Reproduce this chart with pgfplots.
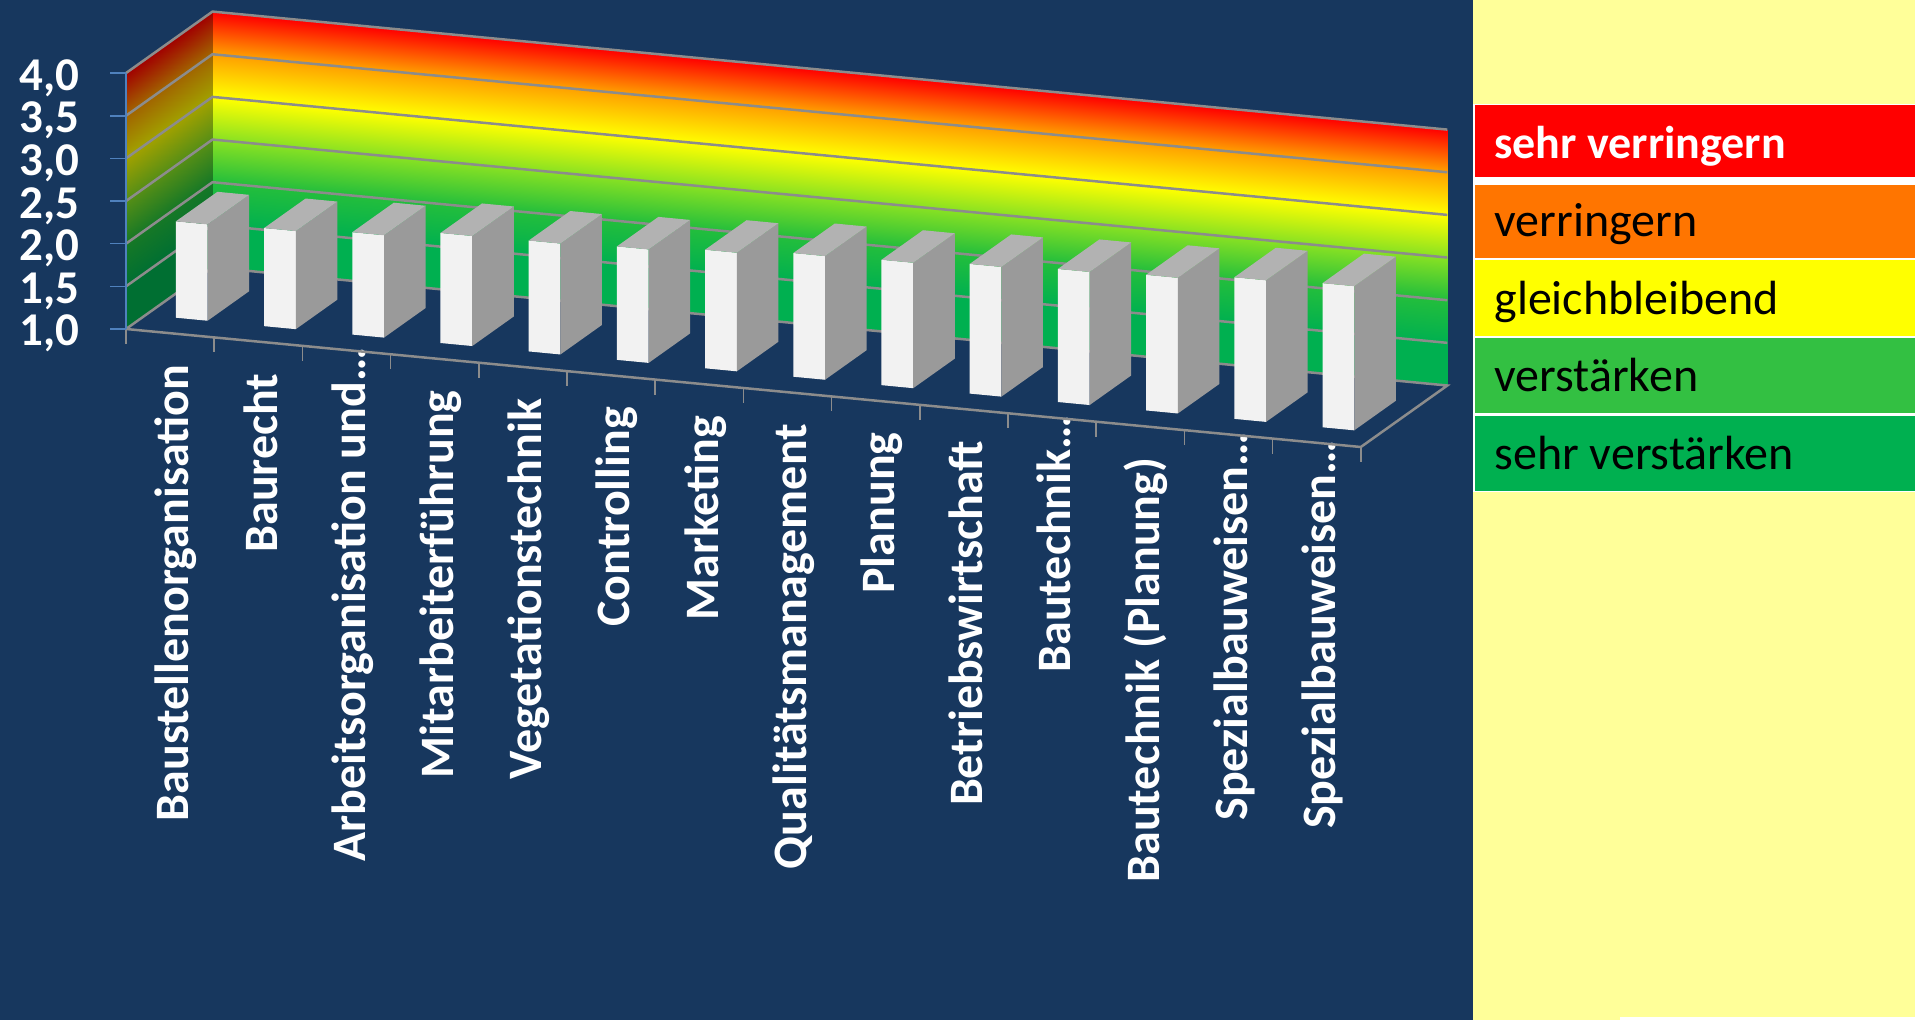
\documentclass[border=0pt]{standalone}
\usepackage{fontspec}
\setmainfont{Carlito}
\usepackage{pgfplots}
\pgfplotsset{compat=1.18}

\definecolor{navy}{RGB}{23,55,94}
\definecolor{panel}{RGB}{255,255,153}
\definecolor{gridc}{RGB}{140,140,140}
\definecolor{axisblue}{RGB}{79,129,189}
\definecolor{barfront}{RGB}{242,242,242}
\definecolor{barside}{RGB}{154,154,154}
\definecolor{bartop}{RGB}{178,178,178}
\definecolor{lgred}{RGB}{255,0,0}
\definecolor{lgorange}{RGB}{255,117,0}
\definecolor{lgyellow}{RGB}{255,255,0}
\definecolor{lggreen}{RGB}{51,192,66}
\definecolor{lgdark}{RGB}{0,176,80}

\pgfplotsset{
  colormap={wall}{rgb255(0cm)=(0,176,80); rgb255(1cm)=(0,176,80); rgb255(2cm)=(35,190,60);
    rgb255(3cm)=(135,225,35); rgb255(4cm)=(255,255,0); rgb255(5cm)=(255,160,0); rgb255(6cm)=(255,0,0)},
  colormap={walldark}{rgb255(0cm)=(0,111,50); rgb255(1cm)=(0,111,50); rgb255(2cm)=(22,120,38);
    rgb255(3cm)=(85,142,22); rgb255(4cm)=(161,161,0); rgb255(5cm)=(161,101,0); rgb255(6cm)=(161,0,0)},
}
% coordinates in pixels of the reference, hung on the axis corner
\tikzset{px/.style={shift={(axis cs:0,0,1)},x=0.5pt,y=-0.5pt,shift={(-126,-329)}}}

% one bar: category index, value
\newcommand{\barbox}[2]{%
  \pgfmathsetmacro\xa{#1+0.34}%
  \pgfmathsetmacro\xb{#1+0.70}%
  \addplot3[draw=none,fill=barfront,forget plot] coordinates {(\xa,0.23,1) (\xb,0.23,1) (\xb,0.23,#2) (\xa,0.23,#2)} -- cycle;
  \addplot3[draw=none,fill=barside,forget plot] coordinates {(\xb,0.23,1) (\xb,0.71,1) (\xb,0.71,#2) (\xb,0.23,#2)} -- cycle;
  \addplot3[draw=none,fill=bartop,forget plot] coordinates {(\xa,0.23,#2) (\xb,0.23,#2) (\xb,0.71,#2) (\xa,0.71,#2)} -- cycle;
}
% truncated labels stand higher in the chart
\newcommand{\cut}{…\kern-17pt}

\begin{document}
\begin{tikzpicture}
\begin{axis}[
    set layers,
    x={(44.1pt,-4.215pt)}, y={(43.25pt,30.75pt)}, z={(0pt,42.65pt)},
    xmin=0, xmax=14, ymin=0, ymax=1, zmin=1, zmax=4,
    clip=false,
    axis line style={draw=none},
    tick style={draw=none},
    major tick length=0pt,
    xtick={0.5,1.5,2.5,3.5,4.5,5.5,6.5,7.5,8.5,9.5,10.5,11.5,12.5,13.5},
    xticklabels={Baustellenorganisation,Baurecht,Arbeitsorganisation und\cut,Mitarbeiterführung,Vegetationstechnik,Controlling,Marketing,Qualitätsmanagement,Planung,Betriebswirtschaft,Bautechnik\cut,Bautechnik (Planung),Spezialbauweisen\cut,Spezialbauweisen\cut},
    ytick=\empty,
    ztick={1,1.5,2,2.5,3,3.5,4},
    xtick pos=left,
    ztick pos=left,
    % shifts after rotate=90 run along the turned text
    xticklabel style={rotate=90,anchor=base east,text=white,xshift=-12.4pt,yshift=-9.4pt,
      font=\fontsize{24}{24}\selectfont\bfseries},
    zticklabel style={anchor=base east,inner sep=0pt,text=white,xshift=-23.2pt,yshift=-8.5pt,
      font=\fontsize{23.5}{24}\selectfont\bfseries,
      /pgf/number format/.cd,fixed,fixed zerofill,precision=1,use comma,assume math mode=true},
    point meta min=1, point meta max=4,
  ]

  \pgfonlayer{axis background}
    \fill[px,navy] (0,0) rectangle (1915,1020);
    \fill[px,panel] (1473,0) rectangle (1915,1020);
    \fill[px,white] (1473,104) rectangle (1915,492);
    \fill[px,white] (1620,1017) rectangle (1915,1020);
  \endpgfonlayer

  % walls
  \addplot3[surf,shader=interp,colormap name=wall,point meta=z,mesh/cols=2,forget plot,yshift=-29.5pt] coordinates {
    (0,1,1) (14,1,1)
    (0,1,1.5) (14,1,1.5)
    (0,1,2) (14,1,2)
    (0,1,2.5) (14,1,2.5)
    (0,1,3) (14,1,3)
    (0,1,3.5) (14,1,3.5)
    (0,1,4) (14,1,4)
  };
  \addplot3[surf,shader=interp,colormap name=walldark,point meta=z,mesh/cols=2,forget plot,yshift=-29.5pt] coordinates {
    (0,0,1) (0,1,1)
    (0,0,1.5) (0,1,1.5)
    (0,0,2) (0,1,2)
    (0,0,2.5) (0,1,2.5)
    (0,0,3) (0,1,3)
    (0,0,3.5) (0,1,3.5)
    (0,0,4) (0,1,4)
  };

  % grid lines on the walls
  \pgfplotsinvokeforeach{1.5,2,2.5,3,3.5,4}{
    \addplot3[gridc,line width=1.25pt,forget plot] coordinates {(0,0,#1) (0,1,#1) (14,1,#1)};
  }
  % floor outline
  \addplot3[gridc,line width=1.25pt,forget plot] coordinates {(0,0,1) (0,1,1) (14,1,1) (14,0,1) (0,0,1)};

  % ticks
  \pgfplotsinvokeforeach{0,1,2,3,4,5,6,7,8,9,10,11,12,13,14}{
    \draw[gridc,line width=0.8pt] (axis cs:#1,0,1) -- ++(0pt,-7.5pt);
  }
  \addplot3[axisblue,line width=1.25pt,forget plot] coordinates {(0,0,1) (0,0,4)};
  \pgfplotsinvokeforeach{1,1.5,2,2.5,3,3.5,4}{
    \draw[axisblue,line width=0.8pt] (axis cs:0,0,#1) -- ++(-8pt,0pt);
  }

  % bars
  \barbox{0}{2.13}
  \barbox{1}{2.15}
  \barbox{2}{2.20}
  \barbox{3}{2.29}
  \barbox{4}{2.30}
  \barbox{5}{2.33}
  \barbox{6}{2.39}
  \barbox{7}{2.45}
  \barbox{8}{2.47}
  \barbox{9}{2.52}
  \barbox{10}{2.56}
  \barbox{11}{2.59}
  \barbox{12}{2.66}
  \barbox{13}{2.69}

  % key on the right
  \fill[px,lgred] (1475,105) rectangle (1915,177);
  \fill[px,lgorange] (1475,185) rectangle (1915,258);
  \fill[px,lgyellow] (1475,260) rectangle (1915,336);
  \fill[px,lggreen] (1475,338) rectangle (1915,413);
  \fill[px,lgdark] (1475,416) rectangle (1915,491);
  \path[px] (1494,159) node[anchor=base west,inner sep=0pt,text=white,font=\fontsize{23}{24}\selectfont\bfseries] {sehr verringern};
  \path[px] (1494,237) node[anchor=base west,inner sep=0pt,text=black,font=\fontsize{24}{24}\selectfont] {verringern};
  \path[px] (1494,315) node[anchor=base west,inner sep=0pt,text=black,font=\fontsize{24}{24}\selectfont] {gleichbleibend};
  \path[px] (1494,392) node[anchor=base west,inner sep=0pt,text=black,font=\fontsize{24}{24}\selectfont] {verstärken};
  \path[px] (1494,470) node[anchor=base west,inner sep=0pt,text=black,font=\fontsize{24}{24}\selectfont] {sehr verstärken};
\end{axis}
\end{tikzpicture}
\end{document}
